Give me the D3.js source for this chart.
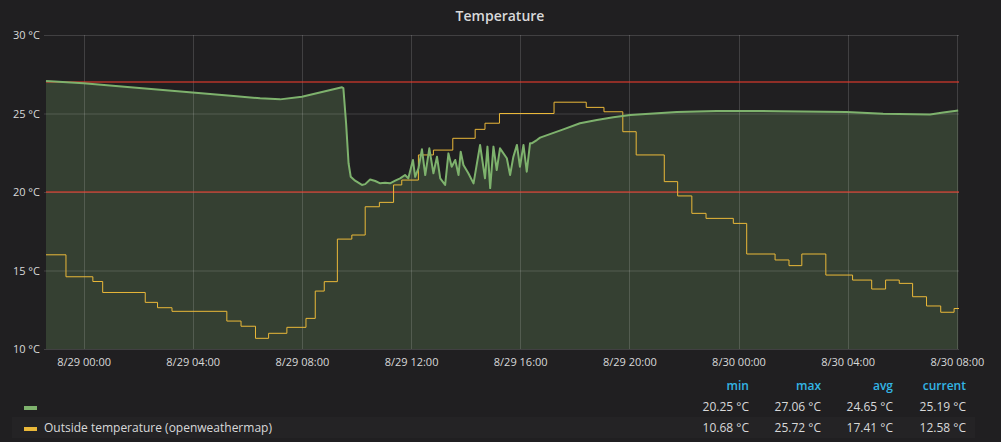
<!DOCTYPE html>
<html>
<head>
<meta charset="utf-8">
<script src="https://cdn.jsdelivr.net/npm/d3@7"></script>
<style>
  html, body { margin: 0; padding: 0; background: #201f21; }
  svg { display: block; font-family: "Open Sans", "Noto Sans", sans-serif; }
</style>
</head>
<body>
<svg id="chart" width="1001" height="442"></svg>
<script>
// ---- data (hours relative to 8/29 00:00) ----
const title = "Temperature";
const yTicks = [10, 15, 20, 25, 30];
const thresholds = [27, 20];

const insideHours = [-1.377, 0, 1.5, 3.99, 5.5, 6.47, 7.2, 8.0, 9.47, 9.52, 9.62, 9.71, 9.79, 9.95, 10.2, 10.32, 10.5, 10.69, 10.87, 11.05, 11.23, 11.42, 11.6, 11.78, 11.9, 12.07, 12.15, 12.27, 12.4, 12.52, 12.67, 12.82, 12.95, 13.07, 13.25, 13.37, 13.49, 13.62, 13.74, 13.82, 13.92, 14.1, 14.29, 14.53, 14.71, 14.8, 14.9, 15.02, 15.14, 15.26, 15.51, 15.63, 15.75, 15.88, 15.99, 16.12, 16.24, 16.36, 16.42, 16.61, 16.73, 17.58, 18.19, 18.81, 19.41, 20.03, 21.74, 23.2, 25.52, 27.96, 29.3, 31.02, 31.5, 32.05];
const insideTemps = [27.07, 26.92, 26.7, 26.33, 26.12, 25.97, 25.9, 26.07, 26.67, 26.62, 24.38, 21.83, 20.97, 20.72, 20.45, 20.5, 20.8, 20.7, 20.55, 20.59, 20.55, 20.72, 20.87, 21.08, 20.87, 22.04, 20.97, 21.5, 22.72, 21.08, 22.78, 21.19, 22.25, 20.87, 20.45, 22.46, 21.61, 22.04, 21.08, 22.57, 21.72, 21.19, 20.55, 23.0, 20.87, 22.89, 20.25, 22.89, 21.4, 22.78, 22.15, 21.08, 22.25, 23.0, 21.61, 23.0, 21.29, 23.1, 23.1, 23.31, 23.46, 23.99, 24.38, 24.59, 24.76, 24.9, 25.1, 25.16, 25.15, 25.1, 24.99, 24.94, 25.07, 25.19];

const outsideHours = [-1.377, -0.645, 0.34, 0.7, 2.26, 2.71, 3.24, 5.25, 5.77, 6.3, 6.78, 7.45, 8.15, 8.49, 8.82, 9.3, 9.83, 10.32, 10.84, 11.36, 11.66, 12.27, 12.82, 13.53, 14.35, 14.71, 15.24, 17.24, 18.42, 19.07, 19.76, 20.25, 21.28, 21.77, 22.29, 22.81, 23.81, 24.3, 25.34, 25.85, 26.32, 27.2, 28.18, 28.88, 29.39, 29.89, 30.38, 30.89, 31.41, 31.9, 32.08];
const outsideTemps = [16.0, 14.6, 14.3, 13.6, 12.97, 12.63, 12.4, 11.78, 11.45, 10.68, 11.0, 11.38, 11.95, 13.69, 14.29, 17.0, 17.26, 19.06, 19.34, 20.45, 20.76, 22.36, 22.67, 23.42, 23.99, 24.38, 25.0, 25.72, 25.39, 25.11, 23.84, 22.36, 20.66, 19.75, 18.64, 18.32, 18.0, 16.05, 15.67, 15.31, 16.05, 14.71, 14.39, 13.82, 14.39, 14.18, 13.33, 12.74, 12.34, 12.58, 12.58];

const legendNames = ["", "Outside temperature (openweathermap)"];
const legendHeaders = ["min", "max", "avg", "current"];
const legendMin = [20.25, 10.68];
const legendMax = [27.06, 25.72];
const legendAvg = [24.65, 17.41];
const legendCurrent = [25.19, 12.58];
const seriesColors = ["#7eb26d", "#eab839"];

// ---- layout ----
const W = 1001, H = 442;
const m = { left: 46, right: 42, top: 35, bottom: 93 };
const svg = d3.select("#chart");
const base = new Date(2017, 7, 29, 0, 0, 0);
const t = h => new Date(base.getTime() + h * 3600e3);

const x = d3.scaleTime()
  .domain([t(insideHours[0]), t(32.08)])
  .range([m.left, W - m.right]);
const y = d3.scaleLinear().domain([10, 30]).range([H - m.bottom, m.top]);

svg.append("rect").attr("width", W).attr("height", H).attr("fill", "#201f21");

// title
svg.append("text").attr("x", 500).attr("y", 21).attr("text-anchor", "middle")
  .attr("fill", "#d8d9da").attr("font-size", 14).attr("font-weight", 600).text(title);

const inside = insideHours.map((h, i) => ({ d: t(h), v: insideTemps[i] }));
const outside = outsideHours.map((h, i) => ({ d: t(h), v: outsideTemps[i] }));

// fill
svg.append("path").datum(inside)
  .attr("d", d3.area().x(d => x(d.d)).y0(y(10)).y1(d => y(d.v)))
  .attr("fill", seriesColors[0]).attr("fill-opacity", 0.23);

// grid
const xTicks = x.ticks(d3.timeHour.every(4)).filter(d => d.getHours() % 4 === 0);
const grid = svg.append("g");
grid.selectAll("line.h").data(yTicks).join("line")
  .attr("x1", m.left - 2).attr("x2", W - m.right)
  .attr("y1", d => y(d) + 0.5).attr("y2", d => y(d) + 0.5)
  .attr("stroke", "rgba(255,255,255,0.15)");
grid.selectAll("line.v").data(xTicks).join("line")
  .attr("x1", d => Math.round(x(d)) + 0.5).attr("x2", d => Math.round(x(d)) + 0.5)
  .attr("y1", m.top).attr("y2", H - m.bottom)
  .attr("stroke", "rgba(255,255,255,0.15)");

// thresholds
svg.selectAll("line.th").data(thresholds).join("line")
  .attr("x1", m.left).attr("x2", W - m.right)
  .attr("y1", d => y(d)).attr("y2", d => y(d))
  .attr("stroke", "rgba(230,60,45,0.75)").attr("stroke-width", 1.5);

// lines
svg.append("path").datum(outside)
  .attr("d", d3.line().x(d => x(d.d)).y(d => y(d.v)).curve(d3.curveStepAfter))
  .attr("fill", "none").attr("stroke", seriesColors[1]).attr("stroke-width", 1);
svg.append("path").datum(inside)
  .attr("d", d3.line().x(d => x(d.d)).y(d => y(d.v)))
  .attr("fill", "none").attr("stroke", seriesColors[0]).attr("stroke-width", 2)
  .attr("stroke-linejoin", "round");

// axes
const yAxis = d3.axisLeft(y).tickValues(yTicks).tickSize(0).tickPadding(6)
  .tickFormat(d => d + " °C");
svg.append("g").attr("transform", `translate(${m.left},0)`).call(yAxis)
  .call(g => g.select(".domain").remove())
  .call(g => g.selectAll("text").attr("fill", "#d8d9da").attr("font-size", 11)
    .attr("font-family", "Open Sans"));

const xAxis = d3.axisBottom(x).tickValues(xTicks).tickSize(0).tickPadding(9)
  .tickFormat(d3.timeFormat("%-m/%-d %H:%M"));
svg.append("g").attr("transform", `translate(0,${H - m.bottom})`).call(xAxis)
  .call(g => g.select(".domain").remove())
  .call(g => g.selectAll("text").attr("fill", "#d8d9da").attr("font-size", 11)
    .attr("font-family", "Open Sans"));

// legend
const colRight = [749, 821, 893, 966];
const leg = svg.append("g");
leg.append("rect").attr("x", 12).attr("y", 417).attr("width", 963).attr("height", 21)
  .attr("fill", "rgba(255,255,255,0.02)");
leg.selectAll("text.hdr").data(legendHeaders).join("text")
  .attr("x", (d, i) => colRight[i]).attr("y", 390).attr("text-anchor", "end")
  .attr("fill", "#33b5e5").attr("font-size", 12).attr("font-weight", 600).text(d => d);
const rowsY = [411, 432];
legendNames.forEach((name, r) => {
  leg.append("rect").attr("x", 24).attr("y", rowsY[r] - 5).attr("width", 13).attr("height", 4)
    .attr("fill", seriesColors[r]);
  leg.append("text").attr("x", 44).attr("y", rowsY[r]).attr("fill", "#d8d9da")
    .attr("font-size", 12).text(name);
  const vals = [legendMin[r], legendMax[r], legendAvg[r], legendCurrent[r]];
  leg.selectAll(null).data(vals).join("text")
    .attr("x", (d, i) => colRight[i]).attr("y", rowsY[r]).attr("text-anchor", "end")
    .attr("fill", "#d8d9da").attr("font-size", 12).text(d => d.toFixed(2) + " °C");
});
</script>
</body>
</html>
